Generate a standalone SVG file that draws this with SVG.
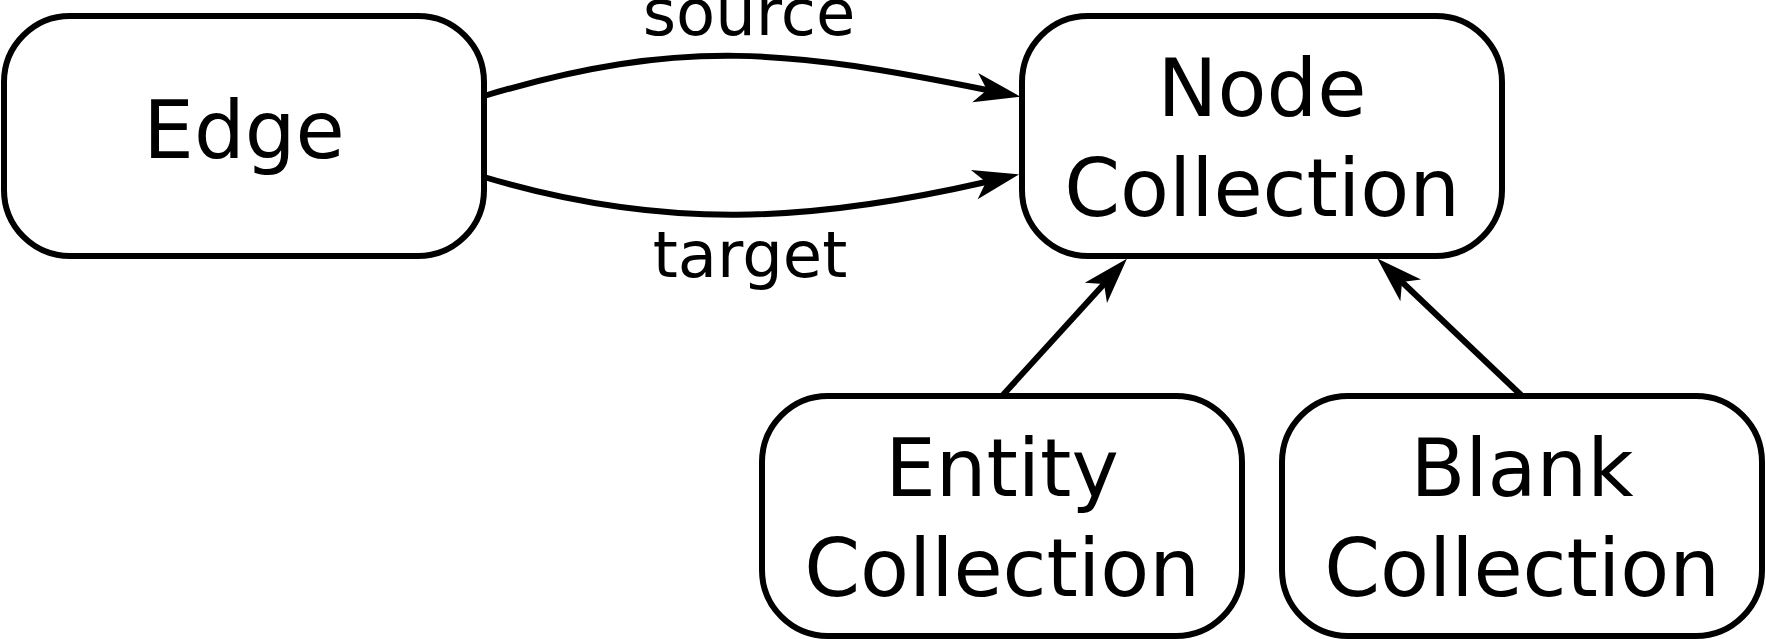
<svg xmlns="http://www.w3.org/2000/svg" width="1766" height="639" viewBox="0 0 1766 639">
<style>
.box{fill:#fff;stroke:#000;stroke-width:6}
.lbl{font-family:"DejaVu Sans",sans-serif;font-size:80px;fill:#000;text-anchor:middle}
.elbl{font-family:"DejaVu Sans",sans-serif;font-size:64px;fill:#000;text-anchor:middle}
.conn{fill:none;stroke:#000;stroke-width:6}
</style>
<defs>
<marker id="arr" markerUnits="userSpaceOnUse" markerWidth="47" markerHeight="32" viewBox="0 0 47 32" refX="12" refY="16" orient="auto" overflow="visible">
<path d="M46,16 L0,1 L12,16 L0,31 Z" fill="#000"/>
</marker>
</defs>
<rect width="1766" height="639" fill="#fff"/>
<g id="connectors">
<path class="conn" d="M484,96 C684,36 792,51 987,90" marker-end="url(#arr)"/>
<path class="conn" d="M484,177 C664,231 811,222 986,182" marker-end="url(#arr)"/>
<path class="conn" d="M1002,396 L1104,284" marker-end="url(#arr)"/>
<path class="conn" d="M1522,396 L1402,282" marker-end="url(#arr)"/>
<text class="elbl" x="749" y="35">source</text>
<text class="elbl" x="750" y="277">target</text>
</g>
<g id="node-edge">
<rect class="box" x="4" y="16" width="480" height="240" rx="66" ry="66"/>
<text class="lbl" x="244" y="158">Edge</text>
</g>
<g id="node-node-collection">
<rect class="box" x="1022" y="16" width="480" height="240" rx="66" ry="66"/>
<text class="lbl" x="1262" y="116">Node</text>
<text class="lbl" x="1262" y="216">Collection</text>
</g>
<g id="node-entity-collection">
<rect class="box" x="762" y="396" width="480" height="240" rx="66" ry="66"/>
<text class="lbl" x="1002" y="496">Entity</text>
<text class="lbl" x="1002" y="596">Collection</text>
</g>
<g id="node-blank-collection">
<rect class="box" x="1282" y="396" width="480" height="240" rx="66" ry="66"/>
<text class="lbl" x="1522" y="496">Blank</text>
<text class="lbl" x="1522" y="596">Collection</text>
</g>
</svg>
